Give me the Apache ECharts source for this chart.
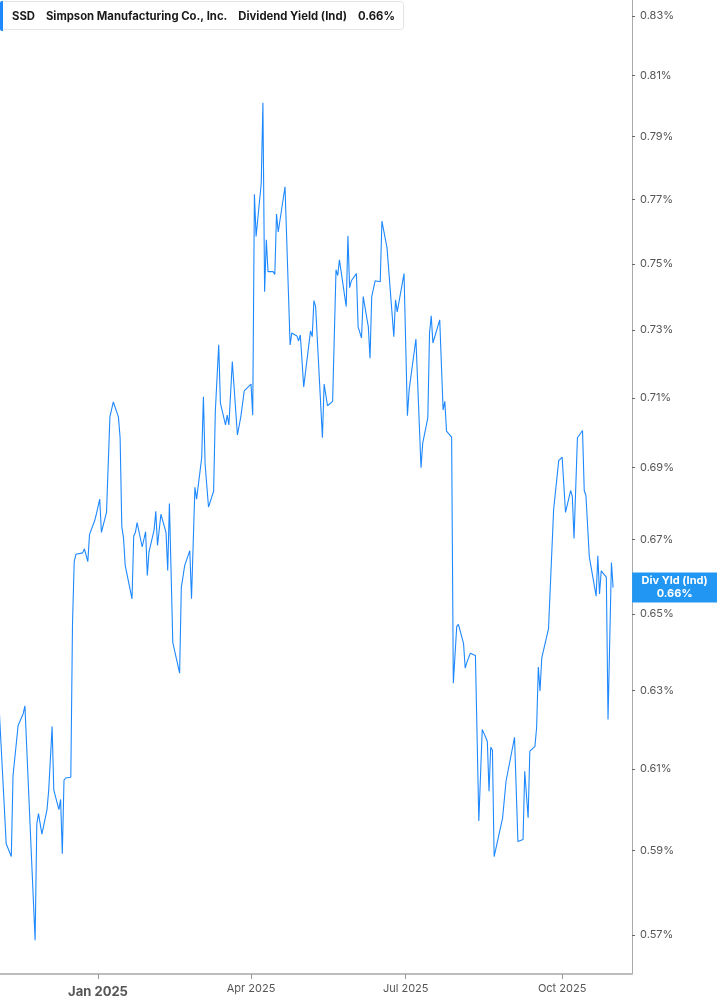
<!DOCTYPE html>
<html>
<head>
<meta charset="utf-8">
<script src="https://cdn.jsdelivr.net/npm/echarts@6/dist/echarts.min.js"></script>
<style>
    html, body {margin: 0; padding: 0; background: #fff;}
    #chart {width: 717px; height: 1005px;}
</style>
</head>
<body>
<div id="chart"></div>
<script>
//SSD 股息率 (日数据, 拐点)
var dates = [
    '2024-11-04', '2024-11-08', '2024-11-11', '2024-11-12', '2024-11-13', '2024-11-15', '2024-11-18', '2024-11-19',
    '2024-11-20', '2024-11-25', '2024-11-26', '2024-11-27', '2024-11-29', '2024-12-02', '2024-12-03', '2024-12-05',
    '2024-12-06', '2024-12-09', '2024-12-10', '2024-12-11', '2024-12-12', '2024-12-13', '2024-12-16', '2024-12-17',
    '2024-12-18', '2024-12-19', '2024-12-23', '2024-12-24', '2024-12-26', '2024-12-27', '2024-12-30', '2024-12-31',
    '2025-01-02', '2025-01-03', '2025-01-06', '2025-01-08', '2025-01-10', '2025-01-13', '2025-01-14', '2025-01-15',
    '2025-01-16', '2025-01-17', '2025-01-21', '2025-01-22', '2025-01-23', '2025-01-24', '2025-01-27', '2025-01-29',
    '2025-01-30', '2025-01-31', '2025-02-03', '2025-02-04', '2025-02-05', '2025-02-06', '2025-02-07', '2025-02-10',
    '2025-02-11', '2025-02-12', '2025-02-14', '2025-02-18', '2025-02-19', '2025-02-21', '2025-02-24', '2025-02-25',
    '2025-02-27', '2025-02-28', '2025-03-03', '2025-03-04', '2025-03-05', '2025-03-06', '2025-03-07', '2025-03-10',
    '2025-03-11', '2025-03-13', '2025-03-14', '2025-03-17', '2025-03-18', '2025-03-19', '2025-03-21', '2025-03-24',
    '2025-03-26', '2025-03-28', '2025-04-01', '2025-04-02', '2025-04-03', '2025-04-04', '2025-04-07', '2025-04-08',
    '2025-04-09', '2025-04-10', '2025-04-11', '2025-04-14', '2025-04-15', '2025-04-16', '2025-04-17', '2025-04-21',
    '2025-04-24', '2025-04-25', '2025-04-28', '2025-04-29', '2025-04-30', '2025-05-01', '2025-05-02', '2025-05-06',
    '2025-05-07', '2025-05-08', '2025-05-09', '2025-05-13', '2025-05-14', '2025-05-16', '2025-05-19', '2025-05-21',
    '2025-05-22', '2025-05-23', '2025-05-27', '2025-05-28', '2025-05-29', '2025-05-30', '2025-06-02', '2025-06-03',
    '2025-06-05', '2025-06-06', '2025-06-09', '2025-06-10', '2025-06-11', '2025-06-12', '2025-06-13', '2025-06-16',
    '2025-06-17', '2025-06-20', '2025-06-24', '2025-06-25', '2025-06-26', '2025-06-30', '2025-07-02', '2025-07-03',
    '2025-07-07', '2025-07-10', '2025-07-11', '2025-07-14', '2025-07-15', '2025-07-16', '2025-07-17', '2025-07-21',
    '2025-07-23', '2025-07-24', '2025-07-25', '2025-07-28', '2025-07-29', '2025-07-30', '2025-07-31', '2025-08-01',
    '2025-08-04', '2025-08-05', '2025-08-06', '2025-08-08', '2025-08-11', '2025-08-13', '2025-08-15', '2025-08-18',
    '2025-08-19', '2025-08-20', '2025-08-21', '2025-08-22', '2025-08-27', '2025-08-29', '2025-09-03', '2025-09-05',
    '2025-09-08', '2025-09-09', '2025-09-11', '2025-09-12', '2025-09-15', '2025-09-16', '2025-09-17', '2025-09-18',
    '2025-09-19', '2025-09-23', '2025-09-26', '2025-09-29', '2025-10-01', '2025-10-03', '2025-10-06', '2025-10-07',
    '2025-10-08', '2025-10-10', '2025-10-13', '2025-10-14', '2025-10-15', '2025-10-17', '2025-10-21', '2025-10-22',
    '2025-10-23', '2025-10-24', '2025-10-27', '2025-10-28', '2025-10-30', '2025-10-31'
];
var yields = [
    0.6242, 0.5917, 0.5886, 0.6083, 0.6085, 0.6210, 0.6240, 0.6260,
    0.6258, 0.5688, 0.5965, 0.5990, 0.5940, 0.6000, 0.6048, 0.6207,
    0.6048, 0.6000, 0.6025, 0.5893, 0.6073, 0.6078, 0.6080, 0.6474,
    0.6640, 0.6660, 0.6664, 0.6675, 0.6640, 0.6714, 0.6752, 0.6770,
    0.6812, 0.6720, 0.6775, 0.7045, 0.7088, 0.7045, 0.6985, 0.6736,
    0.6705, 0.6630, 0.6540, 0.6710, 0.6720, 0.6747, 0.6680, 0.6722,
    0.6603, 0.6667, 0.6727, 0.6778, 0.6684, 0.6680, 0.6770, 0.6720,
    0.6616, 0.6800, 0.6424, 0.6344, 0.6570, 0.6630, 0.6670, 0.6540,
    0.6845, 0.6812, 0.6929, 0.7103, 0.6910, 0.6909, 0.6790, 0.6834,
    0.7060, 0.7256, 0.7085, 0.7022, 0.7050, 0.7022, 0.7206, 0.6993,
    0.7045, 0.7120, 0.7140, 0.7050, 0.7716, 0.7584, 0.7750, 0.8010,
    0.7415, 0.7574, 0.7476, 0.7476, 0.7467, 0.7654, 0.7598, 0.7740,
    0.7255, 0.7291, 0.7282, 0.7267, 0.7285, 0.7280, 0.7132, 0.7297,
    0.7280, 0.7388, 0.7370, 0.6985, 0.7140, 0.7077, 0.7090, 0.7482,
    0.7464, 0.7512, 0.7370, 0.7586, 0.7427, 0.7448, 0.7470, 0.7309,
    0.7276, 0.7400, 0.7309, 0.7216, 0.7400, 0.7400, 0.7448, 0.7445,
    0.7632, 0.7549, 0.7280, 0.7390, 0.7354, 0.7470, 0.7048, 0.7123,
    0.7273, 0.6900, 0.6970, 0.7042, 0.7290, 0.7342, 0.7261, 0.7330,
    0.7065, 0.7090, 0.7004, 0.6987, 0.6318, 0.6322, 0.6466, 0.6472,
    0.6422, 0.6357, 0.6373, 0.6396, 0.6390, 0.5972, 0.6200, 0.6170,
    0.6045, 0.6155, 0.6148, 0.5886, 0.5980, 0.6070, 0.6180, 0.5922,
    0.5927, 0.6095, 0.5980, 0.6145, 0.6157, 0.6205, 0.6360, 0.6298,
    0.6383, 0.6461, 0.6783, 0.6920, 0.6930, 0.6775, 0.6836, 0.6820,
    0.6703, 0.6985, 0.7006, 0.6836, 0.6822, 0.6653, 0.6547, 0.6656,
    0.6553, 0.6615, 0.6598, 0.6225, 0.6638, 0.6570
];
//右侧刻度 (对数刻度)
var yTicks = [0.57, 0.59, 0.61, 0.63, 0.65, 0.67, 0.69, 0.71, 0.73, 0.75, 0.77, 0.79, 0.81, 0.83];
var xTicks = ['2025-01-01', '2025-04-01', '2025-07-01', '2025-10-01'];
var monthNames = ['Jan', 'Feb', 'Mar', 'Apr', 'May', 'Jun', 'Jul', 'Aug', 'Sep', 'Oct', 'Nov', 'Dec'];

var lastVal = yields[yields.length - 1];
var blue = '#1e88ff';

(function (w, d) {
    var chart = echarts.init(d.getElementById('chart'));

    //日期字符串 -> 本地时间戳
    function toTime(s) {
        var p = s.split('-');
        return new Date(+p[0], +p[1] - 1, +p[2]).getTime();
    }

    //log刻度: 先取ln再画在数值轴上
    var seriesData = [];
    for (var i = 0; i < dates.length; i++) {
        seriesData.push([toTime(dates[i]), Math.log(yields[i])]);
    }
    var day = 864e5;
    var jan1 = toTime('2025-01-01');
    var xTickVals = xTicks.map(toTime);
    var yTickVals = yTicks.map(Math.log);

    var hdr = {fontSize: 11.3, color: '#1a1a1a', lineHeight: 14};
    var option = {
        animation: false,
        textStyle: {fontFamily: 'Inter, "Noto Sans", sans-serif'},
        title: {
            text: '{s|SSD}{c|Simpson Manufacturing Co., Inc.}{d|Dividend Yield (Ind)}{v|' + lastVal.toFixed(2) + '%}',
            left: 0,
            top: 0,
            padding: [10, 9, 7, 12],
            backgroundColor: '#fff',
            borderColor: '#e4e4e4',
            borderWidth: 1,
            borderRadius: 3,
            textStyle: {
                fontSize: 11.3,
                rich: {
                    s: echarts.util.extend({fontWeight: 'bold', padding: [0, 11, 0, 0]}, hdr),
                    c: echarts.util.extend({fontWeight: 'bold', padding: [0, 11, 0, 0]}, hdr),
                    d: echarts.util.extend({padding: [0, 11, 0, 0]}, hdr),
                    v: echarts.util.extend({fontWeight: 'bold'}, hdr)
                }
            }
        },
        graphic: [{
            type: 'rect',
            left: 0,
            top: 1,
            shape: {width: 3, height: 30, r: [2, 0, 0, 2]},
            style: {fill: blue},
            z: 100
        }],
        grid: {
            left: 0,
            right: 85,
            top: 0,
            bottom: 31
        },
        xAxis: {
            type: 'value',
            min: jan1 - 57.65 * day,
            max: jan1 + 314.1 * day,
            axisLine: {lineStyle: {color: '#bdbdbd', width: 2}},
            axisTick: {
                show: true,
                length: 5,
                customValues: xTickVals,
                lineStyle: {color: '#999'}
            },
            axisLabel: {
                customValues: xTickVals,
                margin: 9,
                color: '#555',
                fontSize: 11,
                formatter: function (v) {
                    var dt = new Date(v);
                    var s = monthNames[dt.getMonth()] + ' ' + dt.getFullYear();
                    return dt.getMonth() === 0 ? '{y|' + s + '}' : s;
                },
                rich: {
                    y: {fontSize: 13, fontWeight: 'bold', color: '#555', padding: [3, 0, 0, 0]}
                }
            },
            splitLine: {show: false}
        },
        yAxis: {
            type: 'value',
            position: 'right',
            min: Math.log(0.5610),
            max: Math.log(0.8354),
            axisLine: {show: true, lineStyle: {color: '#aaa', width: 1}},
            axisTick: {
                show: true,
                length: 3,
                customValues: yTickVals,
                lineStyle: {color: '#666'}
            },
            axisLabel: {
                customValues: yTickVals,
                margin: 8,
                color: '#555',
                fontSize: 11,
                formatter: function (v) {
                    return Math.exp(v).toFixed(2) + '%';
                }
            },
            splitLine: {show: false}
        },
        series: [{
            name: 'Div Yld (Ind)',
            type: 'line',
            data: seriesData,
            symbol: 'none',
            lineStyle: {color: blue, width: 1.1},
            endLabel: {
                show: true,
                distance: 19,
                formatter: '{a|Div Yld (Ind)}\n{a|' + lastVal.toFixed(2) + '%}',
                backgroundColor: '#2196f3',
                padding: [2, 4],
                rich: {
                    a: {width: 77, align: 'center', color: '#fff', fontWeight: 'bold', fontSize: 11, lineHeight: 13}
                }
            }
        }]
    };
    chart.setOption(option);
})(window, document);
</script>
</body>
</html>
